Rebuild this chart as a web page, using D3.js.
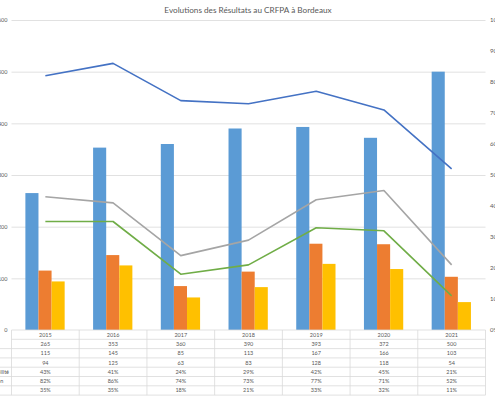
<!DOCTYPE html>
<html>
<head>
<meta charset="utf-8">
<script src="https://cdn.jsdelivr.net/npm/d3@7"></script>
<style>
  body { margin: 0; background: #fff; overflow: hidden; }
  svg { display: block; font-family: Lato, "Open Sans", sans-serif; }
</style>
</head>
<body>
<script>
// data
const years = ["2015", "2016", "2017", "2018", "2019", "2020", "2021"];
const inscrits = [265, 353, 360, 390, 393, 372, 500];
const admissibles = [115, 145, 85, 113, 167, 166, 103];
const admis = [94, 125, 63, 83, 128, 118, 54];
const tauxAdmissibilite = [43, 41, 24, 29, 42, 45, 21];
const tauxAdmission = [82, 86, 74, 73, 77, 71, 52];
const tauxReussite = [35, 35, 18, 21, 33, 32, 11];
const leftTicks = [0, 100, 200, 300, 400, 500, 600];
const rightTicks = [0, 10, 20, 30, 40, 50, 60, 70, 80, 90, 100];

const barSeries = [
  { name: "Inscrits", values: inscrits, color: "#5B9BD5" },
  { name: "Admissibles", values: admissibles, color: "#ED7D31" },
  { name: "Admis", values: admis, color: "#FFC000" },
];
const lineSeries = [
  { name: "Taux d'admissibilité", values: tauxAdmissibilite, color: "#A5A5A5" },
  { name: "Taux d'admission", values: tauxAdmission, color: "#4472C4" },
  { name: "% réussite", values: tauxReussite, color: "#70AD47" },
];

const W = 495, H = 396;
const plot = { left: 11.5, right: 485.5, top: 20, bottom: 330 };
const textColor = "#595959";
const gridColor = "#D9D9D9";

const svg = d3.select("body").append("svg").attr("width", W).attr("height", H);

const x = d3.scaleBand().domain(years).range([plot.left, plot.right]);
const bw = x.bandwidth();
const xInner = d3.scaleBand()
  .domain(barSeries.map((s) => s.name))
  .range([bw * 0.205, bw * 0.785]);
const yLeft = d3.scaleLinear().domain([0, 600]).range([plot.bottom, plot.top]);
const yRight = d3.scaleLinear().domain([0, 100]).range([plot.bottom, plot.top]);

// title
svg.append("text")
  .attr("x", 248)
  .attr("y", 13)
  .attr("text-anchor", "middle")
  .attr("fill", textColor)
  .style("font-size", "8.2px")
  .text("Evolutions des Résultats au CRFPA à Bordeaux");

// gridlines
const grid = svg.append("g")
  .attr("transform", `translate(${plot.left},0)`)
  .call(d3.axisLeft(yLeft).tickValues(leftTicks.slice(1)).tickSize(-(plot.right - plot.left)).tickFormat(""));
grid.select(".domain").remove();
grid.selectAll("line").attr("stroke", gridColor).attr("stroke-width", 0.8);

// left axis labels (cut off by the left edge, like the original)
const yAxisL = svg.append("g")
  .attr("transform", `translate(${plot.left},0)`)
  .call(d3.axisLeft(yLeft).tickValues(leftTicks).tickSize(0).tickPadding(4));
yAxisL.select(".domain").remove();
yAxisL.selectAll("text").attr("fill", textColor).style("font-size", "5.5px").style("font-family", "Lato, sans-serif");

// right axis labels (cut off by the right edge)
const yAxisR = svg.append("g")
  .attr("transform", `translate(${plot.right},0)`)
  .call(d3.axisRight(yRight).tickValues(rightTicks).tickSize(0).tickPadding(4.5).tickFormat((d) => d + "%"));
yAxisR.select(".domain").remove();
yAxisR.selectAll("text").attr("fill", textColor).style("font-size", "6px").style("font-family", "Lato, sans-serif");

// bars
barSeries.forEach((s) => {
  svg.append("g")
    .selectAll("rect")
    .data(s.values)
    .enter()
    .append("rect")
    .attr("x", (d, i) => x(years[i]) + xInner(s.name))
    .attr("y", (d) => yLeft(d))
    .attr("width", xInner.bandwidth())
    .attr("height", (d) => plot.bottom - yLeft(d))
    .attr("fill", s.color);
});

// lines
const line = d3.line()
  .x((d, i) => x(years[i]) + bw / 2)
  .y((d) => yRight(d));

lineSeries.forEach((s) => {
  svg.append("path")
    .datum(s.values)
    .attr("fill", "none")
    .attr("stroke", s.color)
    .attr("stroke-width", 1.6)
    .attr("stroke-linejoin", "round")
    .attr("d", line);
});

// data table
const rowH = 9.3;
const tableRows = [
  { name: "", cells: years },
  ...barSeries.map((s) => ({ name: s.name, cells: s.values.map(String) })),
  ...lineSeries.map((s) => ({ name: s.name, cells: s.values.map((v) => v + "%") })),
];
const table = svg.append("g");

tableRows.forEach((row, r) => {
  const top = plot.bottom + r * rowH;
  table.append("line")
    .attr("x1", r === 0 ? plot.left : 0)
    .attr("x2", plot.right)
    .attr("y1", top + rowH)
    .attr("y2", top + rowH)
    .attr("stroke", gridColor)
    .attr("stroke-width", 0.8);

  table.selectAll(null)
    .data(row.cells)
    .enter()
    .append("text")
    .attr("x", (d, i) => x(years[i]) + bw / 2)
    .attr("y", top + rowH / 2 + 2)
    .attr("text-anchor", "middle")
    .attr("fill", textColor)
    .style("font-size", "5.5px")
    .text((d) => d);
});

// axis line at the table top
table.append("line")
  .attr("x1", plot.left).attr("x2", plot.right)
  .attr("y1", plot.bottom).attr("y2", plot.bottom)
  .attr("stroke", gridColor).attr("stroke-width", 0.8);

// vertical table lines
const tableBottom = plot.bottom + tableRows.length * rowH;
table.selectAll(null)
  .data(years.concat(["end"]))
  .enter()
  .append("line")
  .attr("x1", (d) => (d === "end" ? plot.right : x(d)))
  .attr("x2", (d) => (d === "end" ? plot.right : x(d)))
  .attr("y1", plot.bottom)
  .attr("y2", tableBottom)
  .attr("stroke", gridColor)
  .attr("stroke-width", 0.8);

// row labels (cut off on the left, like the original)
const labels = table.selectAll(".row-label")
  .data(tableRows.slice(1))
  .enter()
  .append("text")
  .attr("class", "row-label")
  .attr("y", (d, i) => plot.bottom + (i + 1) * rowH + rowH / 2 + 2)
  .attr("fill", textColor)
  .style("font-size", "5.5px")
  .text((d) => d.name);

const longest = labels.filter((d) => d.name === "Taux d'admissibilité").node().getComputedTextLength();
labels.attr("x", 9 - longest);
</script>
</body>
</html>
